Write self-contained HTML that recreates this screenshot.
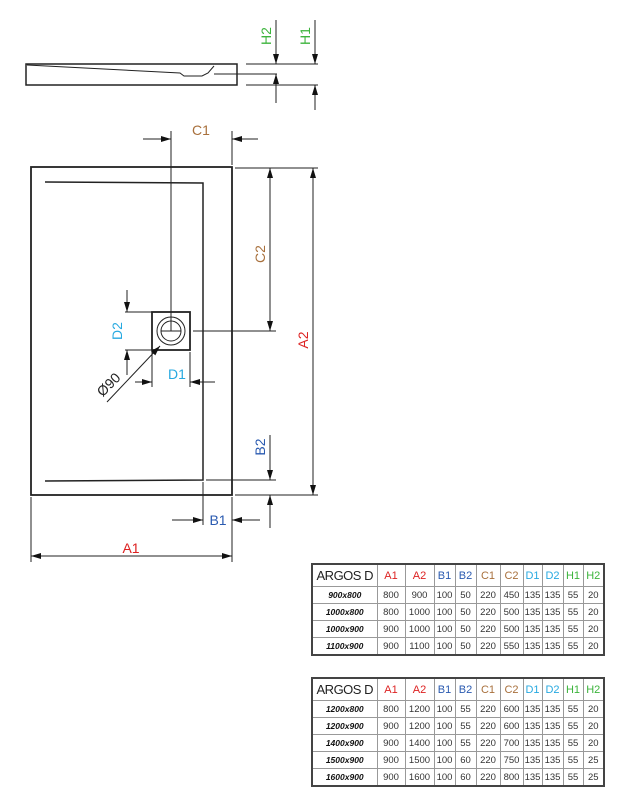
<!DOCTYPE html>
<html><head><meta charset="utf-8"><style>
body{margin:0;background:#fff;width:620px;height:792px;overflow:hidden;position:relative;font-family:"Liberation Sans",sans-serif}
table{position:absolute;border-collapse:collapse;left:311px;width:294px;table-layout:fixed;font-size:9.5px;color:#333;border:2px solid #444}
td{border:1px solid #999;text-align:center;padding:0;height:16px;white-space:nowrap;overflow:hidden}
tr.h td{height:21px;font-size:11px}
tr.h td.t{font-size:13px;color:#222;letter-spacing:-0.5px}
td.n{font-weight:bold;font-style:italic;font-size:8.5px;color:#111}
.r{color:#d22}.b{color:#2a5ab0}.o{color:#a8703c}.c{color:#27a9e0}.g{color:#3cb43c}
</style></head><body>
<svg width="620" height="792" style="position:absolute;left:0;top:0" font-family="Liberation Sans, sans-serif">
<defs>
<marker id="a" viewBox="0 0 10 6" refX="10" refY="3" markerWidth="10" markerHeight="6" orient="auto-start-reverse" markerUnits="userSpaceOnUse"><path d="M0,0L10,3L0,6z" fill="#111"/></marker>
</defs>
<g stroke="#222" fill="none" stroke-width="1">
<rect x="26" y="64" width="211" height="21" stroke-width="1.5"/>
<path d="M27,65 L180,73 L184,76 L202,76 L208,73 L214,66"/>
<line x1="214" y1="74" x2="277" y2="74"/>
<line x1="246" y1="64" x2="318" y2="64"/>
<line x1="246" y1="85" x2="318" y2="85"/>
<line x1="276" y1="20" x2="276" y2="64" marker-end="url(#a)"/>
<line x1="276" y1="103" x2="276" y2="74" marker-end="url(#a)"/>
<line x1="315" y1="20" x2="315" y2="64" marker-end="url(#a)"/>
<line x1="315" y1="110" x2="315" y2="85" marker-end="url(#a)"/>
<rect x="31" y="167" width="201" height="328" stroke-width="1.8"/>
<path d="M45,182 L203,183 L203,480 L45,481" stroke-width="1.5"/>
<rect x="152" y="312" width="38" height="38" stroke-width="1.8"/>
<circle cx="171" cy="331" r="14"/><circle cx="171" cy="331" r="10"/>
<line x1="161" y1="331" x2="181" y2="331"/>
<line x1="171" y1="131" x2="171" y2="331"/>
<line x1="232" y1="131" x2="232" y2="165"/>
<line x1="143" y1="139" x2="171" y2="139" marker-end="url(#a)"/>
<line x1="258" y1="139" x2="232" y2="139" marker-end="url(#a)"/>
<line x1="193" y1="331" x2="276" y2="331"/>
<line x1="235" y1="168" x2="318" y2="168"/>
<line x1="270" y1="168" x2="270" y2="331" marker-start="url(#a)" marker-end="url(#a)"/>
<line x1="235" y1="495" x2="318" y2="495"/>
<line x1="313" y1="168" x2="313" y2="495" marker-start="url(#a)" marker-end="url(#a)"/>
<line x1="206" y1="480" x2="276" y2="480"/>
<line x1="270" y1="435" x2="270" y2="480" marker-end="url(#a)"/>
<line x1="270" y1="528" x2="270" y2="495" marker-end="url(#a)"/>
<line x1="203" y1="482" x2="203" y2="525"/>
<line x1="232" y1="497" x2="232" y2="562"/>
<line x1="172" y1="520" x2="203" y2="520" marker-end="url(#a)"/>
<line x1="260" y1="520" x2="232" y2="520" marker-end="url(#a)"/>
<line x1="31" y1="497" x2="31" y2="562"/>
<line x1="31" y1="556" x2="232" y2="556" marker-start="url(#a)" marker-end="url(#a)"/>
<line x1="125" y1="312" x2="152" y2="312"/>
<line x1="125" y1="350" x2="152" y2="350"/>
<line x1="127" y1="290" x2="127" y2="312" marker-end="url(#a)"/>
<line x1="127" y1="375" x2="127" y2="350" marker-end="url(#a)"/>
<line x1="152" y1="352" x2="152" y2="387"/>
<line x1="190" y1="352" x2="190" y2="387"/>
<line x1="135" y1="382" x2="152" y2="382" marker-end="url(#a)"/>
<line x1="215" y1="382" x2="190" y2="382" marker-end="url(#a)"/>
<line x1="107" y1="402" x2="160" y2="346" marker-end="url(#a)"/>
</g>
<g font-size="14">
<text x="274" y="36" fill="#3cb43c" transform="rotate(-90 274 36)" text-anchor="middle" dy="-3">H2</text>
<text x="313" y="36" fill="#3cb43c" transform="rotate(-90 313 36)" text-anchor="middle" dy="-3">H1</text>
<text x="201" y="135" fill="#a8703c" text-anchor="middle">C1</text>
<text x="268" y="254" fill="#a8703c" transform="rotate(-90 268 254)" text-anchor="middle" dy="-3">C2</text>
<text x="311" y="340" fill="#d22" transform="rotate(-90 311 340)" text-anchor="middle" dy="-3">A2</text>
<text x="268" y="447" fill="#2a5ab0" transform="rotate(-90 268 447)" text-anchor="middle" dy="-3">B2</text>
<text x="218" y="525" fill="#2a5ab0" text-anchor="middle">B1</text>
<text x="131" y="553" fill="#d22" text-anchor="middle">A1</text>
<text x="125" y="331" fill="#27a9e0" transform="rotate(-90 125 331)" text-anchor="middle" dy="-3">D2</text>
<text x="177" y="379" fill="#27a9e0" text-anchor="middle">D1</text>
<text x="112" y="388" fill="#222" transform="rotate(-45 112 388)" text-anchor="middle">Ø90</text>
</g>
</svg>
<table style="top:563px">
<colgroup><col style="width:65px"><col style="width:28px"><col style="width:29px"><col style="width:21px"><col style="width:21px"><col style="width:24px"><col style="width:23px"><col style="width:19px"><col style="width:21px"><col style="width:20px"><col style="width:21px"></colgroup>
<tr class="h"><td class="t">ARGOS D</td><td class="r">A1</td><td class="r">A2</td><td class="b">B1</td><td class="b">B2</td><td class="o">C1</td><td class="o">C2</td><td class="c">D1</td><td class="c">D2</td><td class="g">H1</td><td class="g">H2</td></tr>
<tr><td class="n">900x800</td><td>800</td><td>900</td><td>100</td><td>50</td><td>220</td><td>450</td><td>135</td><td>135</td><td>55</td><td>20</td></tr>
<tr><td class="n">1000x800</td><td>800</td><td>1000</td><td>100</td><td>50</td><td>220</td><td>500</td><td>135</td><td>135</td><td>55</td><td>20</td></tr>
<tr><td class="n">1000x900</td><td>900</td><td>1000</td><td>100</td><td>50</td><td>220</td><td>500</td><td>135</td><td>135</td><td>55</td><td>20</td></tr>
<tr><td class="n">1100x900</td><td>900</td><td>1100</td><td>100</td><td>50</td><td>220</td><td>550</td><td>135</td><td>135</td><td>55</td><td>20</td></tr>
</table>
<table style="top:677px">
<colgroup><col style="width:65px"><col style="width:28px"><col style="width:29px"><col style="width:21px"><col style="width:21px"><col style="width:24px"><col style="width:23px"><col style="width:19px"><col style="width:21px"><col style="width:20px"><col style="width:21px"></colgroup>
<tr class="h"><td class="t">ARGOS D</td><td class="r">A1</td><td class="r">A2</td><td class="b">B1</td><td class="b">B2</td><td class="o">C1</td><td class="o">C2</td><td class="c">D1</td><td class="c">D2</td><td class="g">H1</td><td class="g">H2</td></tr>
<tr><td class="n">1200x800</td><td>800</td><td>1200</td><td>100</td><td>55</td><td>220</td><td>600</td><td>135</td><td>135</td><td>55</td><td>20</td></tr>
<tr><td class="n">1200x900</td><td>900</td><td>1200</td><td>100</td><td>55</td><td>220</td><td>600</td><td>135</td><td>135</td><td>55</td><td>20</td></tr>
<tr><td class="n">1400x900</td><td>900</td><td>1400</td><td>100</td><td>55</td><td>220</td><td>700</td><td>135</td><td>135</td><td>55</td><td>20</td></tr>
<tr><td class="n">1500x900</td><td>900</td><td>1500</td><td>100</td><td>60</td><td>220</td><td>750</td><td>135</td><td>135</td><td>55</td><td>25</td></tr>
<tr><td class="n">1600x900</td><td>900</td><td>1600</td><td>100</td><td>60</td><td>220</td><td>800</td><td>135</td><td>135</td><td>55</td><td>25</td></tr>
</table>
</body></html>
